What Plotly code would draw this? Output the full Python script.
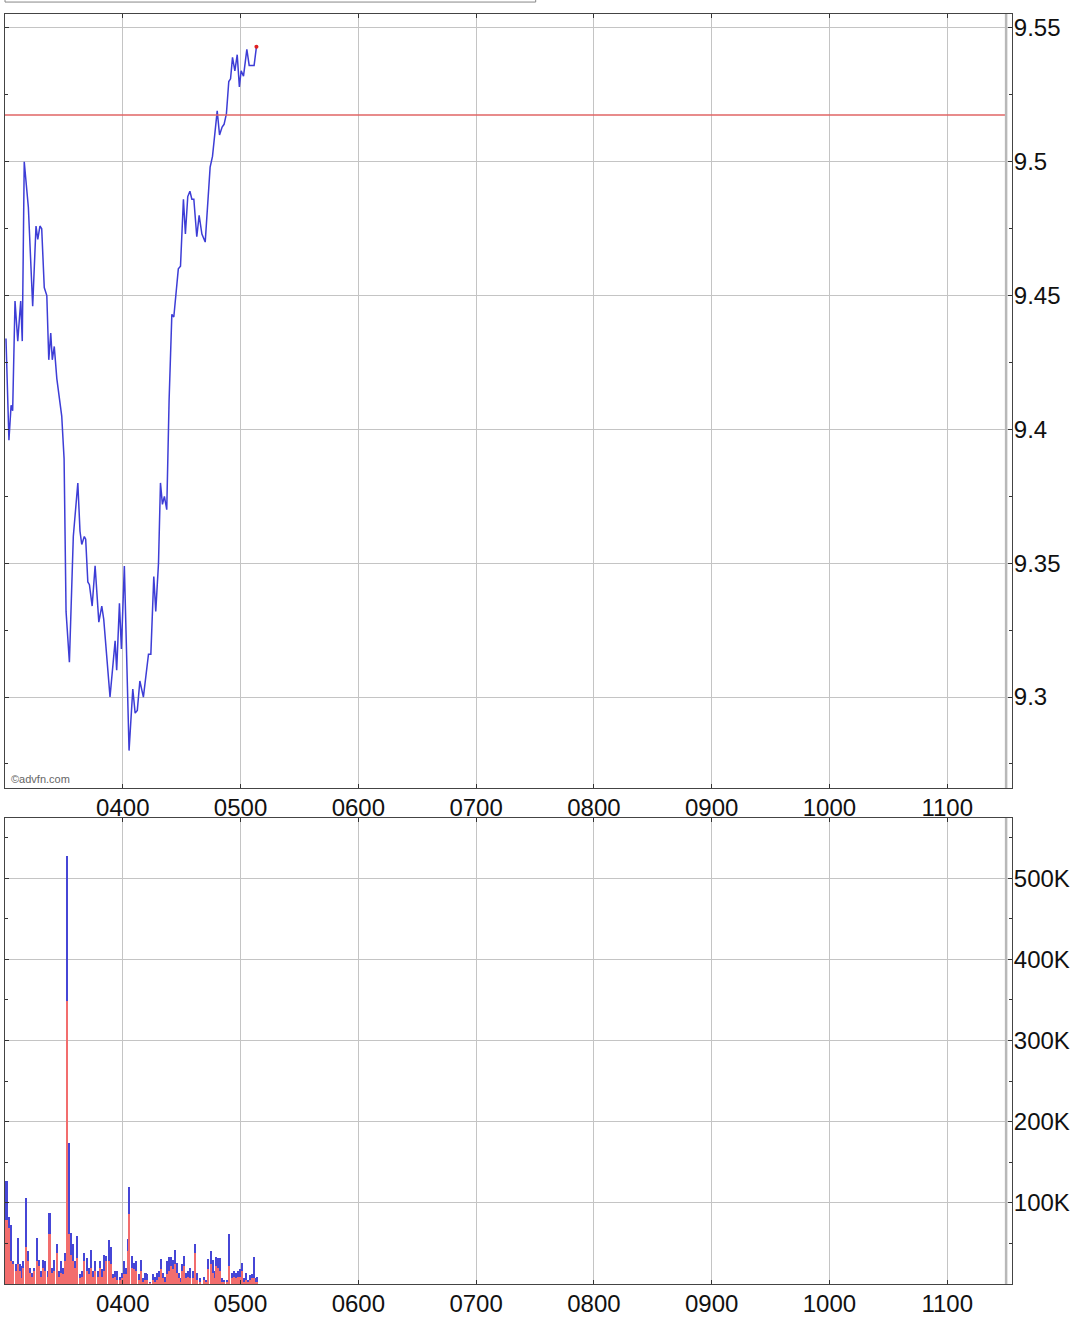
import plotly.graph_objects as go

# intraday price, minutes after 03:00
price_mins = [0.5, 2.0, 3.1, 3.9, 5.1, 6.5, 8.0, 8.8, 9.8, 11.9, 14.1, 15.8, 16.7, 17.8, 18.7,
              20.0, 21.3, 22.3, 23.3, 24.1, 25.1, 26.4, 28.9, 30.1, 31.1, 32.8, 34.8, 37.1,
              38.2, 39.1, 40.4, 41.1, 42.2, 43.0, 44.4, 45.9, 47.8, 49.3, 50.3, 53.5, 56.1,
              56.9, 58.3, 59.3, 60.8, 63.2, 65.1, 66.3, 67.4, 68.7, 70.5, 73.1, 74.3, 75.8,
              76.8, 78.2, 79.2, 80.2, 81.2, 82.4, 83.6, 85.0, 86.0, 88.3, 89.4, 90.9, 91.9,
              93.1, 94.2, 95.2, 96.2, 97.7, 98.9, 100.3, 102.0, 104.5, 105.7, 108.1, 109.3,
              110.6, 111.6, 112.8, 114.0, 114.9, 115.9, 117.1, 118.3, 119.4, 120.3, 121.5,
              123.2, 124.4, 126.9, 128.1]
price_vals = [9.434, 9.396, 9.409, 9.407, 9.448, 9.433, 9.448, 9.433, 9.500, 9.483, 9.446,
              9.476, 9.471, 9.476, 9.475, 9.453, 9.450, 9.426, 9.436, 9.426, 9.431, 9.419,
              9.405, 9.389, 9.332, 9.313, 9.360, 9.380, 9.362, 9.357, 9.360, 9.359, 9.343,
              9.342, 9.334, 9.349, 9.328, 9.334, 9.329, 9.300, 9.321, 9.310, 9.335, 9.318,
              9.349, 9.280, 9.303, 9.294, 9.295, 9.306, 9.300, 9.316, 9.316, 9.345, 9.332,
              9.350, 9.380, 9.372, 9.375, 9.370, 9.411, 9.443, 9.442, 9.460, 9.461, 9.486,
              9.473, 9.487, 9.489, 9.486, 9.486, 9.472, 9.480, 9.473, 9.470, 9.498, 9.502,
              9.519, 9.510, 9.513, 9.514, 9.518, 9.530, 9.531, 9.539, 9.534, 9.540, 9.528,
              9.534, 9.532, 9.542, 9.536, 9.536, 9.543]
prev_close = 9.5175

# volume per trade bucket (thousands): total and the red part
vol_mins = [0.9, 2.0, 3.4, 4.2, 5.5, 6.6, 7.6, 8.7, 9.5, 10.6, 11.6, 12.7, 13.8, 14.9, 16.2,
            17.3, 18.4, 19.5, 20.5, 21.8, 22.8, 24.0, 25.1, 26.4, 27.4, 28.5, 29.7, 30.9,
            31.6, 32.5, 33.6, 34.8, 35.8, 36.9, 38.2, 39.3, 40.4, 41.7, 42.7, 43.7, 44.9,
            46.0, 47.3, 48.4, 49.6, 50.6, 51.8, 53.2, 54.2, 55.2, 56.2, 57.2, 58.5, 59.5,
            60.7, 61.7, 62.6, 63.5, 64.6, 65.8, 66.8, 68.2, 69.3, 70.5, 71.7, 72.7, 74.1,
            75.3, 76.5, 77.6, 78.7, 79.7, 80.7, 81.7, 82.7, 83.8, 84.6, 85.5, 86.7, 87.7,
            88.6, 89.6, 90.4, 91.4, 92.4, 93.4, 94.5, 95.7, 96.9, 98.0, 99.4, 101.6, 102.6,
            103.6, 104.9, 105.9, 106.7, 107.7, 108.7, 109.8, 110.8, 111.8, 113.2, 114.3,
            115.6, 116.6, 117.6, 118.6, 119.8, 120.7, 121.8, 122.9, 123.7, 124.7, 125.8,
            126.8, 127.8, 128.6]
vol_total = [127, 83, 73, 28, 24, 57, 24, 22, 28, 106, 40, 20, 14, 20, 57, 30, 16, 30, 28, 16,
             87, 20, 30, 49, 16, 28, 20, 38, 527, 174, 63, 49, 28, 59, 12, 16, 38, 32, 20, 42,
             16, 28, 16, 28, 18, 36, 34, 54, 46, 12, 16, 16, 9, 14, 28, 20, 55, 120, 34, 26,
             28, 12, 30, 7, 14, 12, 3, 12, 8, 14, 16, 31, 14, 9, 28, 33, 33, 29, 42, 26, 14,
             7, 24, 34, 14, 16, 20, 16, 49, 14, 7, 9, 5, 31, 41, 29, 16, 33, 32, 32, 7, 5, 5,
             62, 14, 16, 14, 16, 19, 26, 7, 14, 5, 11, 12, 33, 7, 8]
vol_red = [79, 69, 28, 24, 16, 24, 16, 7, 20, 46, 28, 14, 9, 16, 28, 22, 9, 20, 16, 9, 61, 14,
           16, 38, 9, 14, 12, 28, 349, 62, 36, 28, 20, 32, 7, 9, 28, 16, 12, 20, 9, 16, 9, 20,
           9, 16, 28, 28, 24, 7, 9, 5, 5, 7, 12, 12, 40, 86, 20, 18, 16, 5, 16, 3, 5, 5, 1, 5,
           3, 5, 9, 18, 7, 3, 12, 16, 22, 18, 24, 14, 7, 3, 16, 22, 7, 9, 7, 7, 38, 5, 3, 5, 2,
           18, 24, 14, 7, 22, 20, 16, 3, 2, 2, 22, 7, 9, 7, 8, 8, 16, 3, 5, 2, 5, 7, 7, 3, 3]

hour_ticks = [240, 300, 360, 420, 480, 540, 600, 660]
hour_labels = ['0400', '0500', '0600', '0700', '0800', '0900', '1000', '1100']
price_ticks = [9.3, 9.35, 9.4, 9.45, 9.5, 9.55]
price_labels = ['9.3', '9.35', '9.4', '9.45', '9.5', '9.55']
vol_ticks = [100000, 200000, 300000, 400000, 500000]
vol_labels = ['100K', '200K', '300K', '400K', '500K']

assert len(price_mins) == len(price_vals)
assert len(vol_mins) == len(vol_total) == len(vol_red)

start = 180
close_min = 690
px = [start + m for m in price_mins]
vx = [start + m for m in vol_mins]

fig = go.Figure()
fig.add_trace(go.Scatter(x=px, y=price_vals, mode='lines',
                         line=dict(color='#3d3dd6', width=1.5),
                         xaxis='x', yaxis='y', showlegend=False))
fig.add_trace(go.Scatter(x=[px[-1]], y=[price_vals[-1]], mode='markers',
                         marker=dict(color='#e02020', size=4),
                         xaxis='x', yaxis='y', showlegend=False))
fig.add_trace(go.Bar(x=vx, y=[v * 1000 for v in vol_total], width=0.8,
                     marker=dict(color='#4646d6', line=dict(width=0)),
                     xaxis='x2', yaxis='y2', showlegend=False))
fig.add_trace(go.Bar(x=vx, y=[v * 1000 for v in vol_red], width=0.8,
                     marker=dict(color='#f26d6d', line=dict(width=0)),
                     xaxis='x2', yaxis='y2', showlegend=False))

axis_common = dict(showline=True, linecolor='#444', linewidth=1, mirror='ticks',
                   showgrid=True, gridcolor='#c4c4c4', gridwidth=1, zeroline=False,
                   ticks='inside', ticklen=4, tickcolor='#333', automargin=False,
                   tickfont=dict(family='Liberation Sans', size=24, color='#111'))

fig.update_layout(
    width=1080, height=1319,
    margin=dict(l=5, r=68, t=14, b=35),
    paper_bgcolor='white', plot_bgcolor='white',
    barmode='overlay', bargap=0,
    xaxis=dict(axis_common, domain=[0, 1], range=[start, 693], anchor='y',
               tickvals=hour_ticks, ticktext=hour_labels, ticklabelstandoff=-2),
    yaxis=dict(axis_common, domain=[0.3906, 1], range=[9.26604, 9.55522], side='right',
               anchor='x', tickvals=price_ticks, ticktext=price_labels, ticklabelstandoff=-4,
               minor=dict(dtick=0.025, tick0=9.3, ticks='inside', ticklen=3, tickcolor='#333',
                          showgrid=False)),
    xaxis2=dict(axis_common, domain=[0, 1], range=[start, 693], anchor='y2',
                tickvals=hour_ticks, ticktext=hour_labels, ticklabelstandoff=-2),
    yaxis2=dict(axis_common, domain=[0, 0.3669], range=[0, 574000], side='right',
                anchor='x2', tickvals=vol_ticks, ticktext=vol_labels, ticklabelstandoff=-4,
                minor=dict(dtick=50000, tick0=0, ticks='inside', ticklen=3, tickcolor='#333',
                           showgrid=False)),
    shapes=[
        dict(type='line', xref='x', yref='y', x0=start, x1=close_min, y0=prev_close, y1=prev_close,
             line=dict(color='#e06464', width=1.5)),
        dict(type='line', xref='x', yref='y domain', x0=close_min, x1=close_min, y0=0, y1=1,
             line=dict(color='#b8b8b8', width=2.5)),
        dict(type='line', xref='x2', yref='y2 domain', x0=close_min, x1=close_min, y0=0, y1=1,
             line=dict(color='#b8b8b8', width=2.5)),
        dict(type='rect', xref='paper', yref='paper', x0=0, x1=0.527, y0=1.0094, y1=1.05,
             line=dict(color='#888', width=1)),
    ],
    annotations=[
        dict(text='©advfn.com', xref='paper', yref='paper', x=0.004, y=0.3976,
             xanchor='left', yanchor='middle', showarrow=False,
             font=dict(family='Liberation Sans', size=11, color='#666')),
    ],
)

# page body has a default margin, drop it so the chart sits at the corner
fig.write_html('out.html', config={'displayModeBar': False},
               post_script="document.body.style.margin='0';")
